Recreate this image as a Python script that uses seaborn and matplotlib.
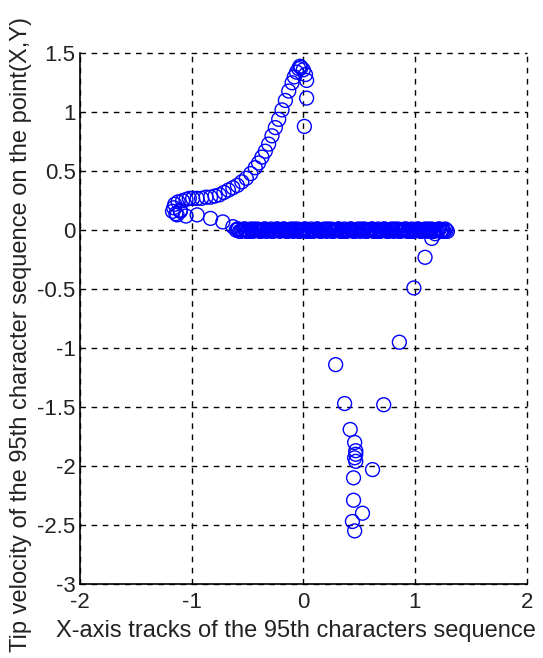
import matplotlib
matplotlib.use("Agg")
import matplotlib.pyplot as plt
import seaborn as sns
import pandas as pd

# ---- data ----
upper_x = [-1.17, -1.16, -1.15, -1.14, -1.12, -1.10, -1.08, -1.05, -1.02, -0.99,
           -0.95, -0.91, -0.87, -0.83, -0.79, -0.75, -0.71, -0.67, -0.63, -0.59,
           -0.55, -0.51, -0.47, -0.43, -0.40, -0.37, -0.34, -0.31, -0.28, -0.25,
           -0.22, -0.19, -0.16, -0.13, -0.10, -0.08, -0.06, -0.04, -0.03, -0.02,
           0.00, 0.02, 0.03, 0.03, 0.01]
upper_y = [0.16, 0.19, 0.22, 0.14, 0.24, 0.17, 0.25, 0.26, 0.27, 0.27,
           0.27, 0.27, 0.28, 0.28, 0.29, 0.30, 0.32, 0.34, 0.36, 0.38,
           0.41, 0.44, 0.48, 0.53, 0.57, 0.62, 0.67, 0.73, 0.80, 0.87,
           0.94, 1.02, 1.10, 1.18, 1.25, 1.30, 1.34, 1.37, 1.39, 1.38,
           1.36, 1.32, 1.27, 1.12, 0.88]

lower_x = [-1.13, -1.10, -1.05, -0.95, -0.83, -0.72, -0.63]
lower_y = [0.13, 0.16, 0.12, 0.13, 0.10, 0.07, 0.03]

band_x = [-0.60, -0.58, -0.56, -0.54, -0.52, -0.50, -0.48, -0.46, -0.44, -0.42,
          -0.40, -0.38, -0.36, -0.34, -0.32, -0.30, -0.28, -0.26, -0.24, -0.22,
          -0.20, -0.18, -0.16, -0.14, -0.12, -0.10, -0.08, -0.06, -0.04, -0.02,
          0.00, 0.02, 0.04, 0.06, 0.08, 0.10, 0.12, 0.14, 0.16, 0.18,
          0.20, 0.22, 0.24, 0.26, 0.28, 0.30, 0.32, 0.34, 0.36, 0.38,
          0.40, 0.42, 0.44, 0.46, 0.48, 0.50, 0.52, 0.54, 0.56, 0.58,
          0.60, 0.62, 0.64, 0.66, 0.68, 0.70, 0.72, 0.74, 0.76, 0.78,
          0.80, 0.82, 0.84, 0.86, 0.88, 0.90, 0.92, 0.94, 0.96, 0.98,
          1.00, 1.02, 1.04, 1.06, 1.08, 1.10, 1.12, 1.14, 1.16, 1.18,
          1.20, 1.22, 1.24, 1.26, 1.28]
band_y = [0.00, 0.01, -0.01, 0.00, 0.01, 0.00, -0.01, 0.00, 0.01, 0.00,
          0.00, -0.01, 0.00, 0.01, 0.00, 0.00, -0.01, 0.00, 0.01, 0.00,
          0.00, 0.01, 0.00, -0.01, 0.00, 0.00, 0.01, 0.00, -0.01, 0.00,
          0.00, 0.01, 0.00, -0.01, 0.00, 0.00, 0.01, 0.00, -0.01, 0.00,
          0.00, 0.01, 0.00, -0.01, 0.00, 0.00, 0.01, 0.00, -0.01, 0.00,
          0.00, 0.01, 0.00, -0.01, 0.00, 0.00, 0.01, 0.00, -0.01, 0.00,
          0.00, 0.01, 0.00, -0.01, 0.00, 0.00, 0.01, 0.00, -0.01, 0.00,
          0.00, 0.01, 0.00, -0.01, 0.00, 0.00, 0.01, 0.00, -0.01, 0.00,
          0.00, 0.01, 0.00, -0.01, 0.00, 0.00, 0.01, 0.00, -0.01, 0.00,
          0.00, 0.01, 0.00, -0.01, 0.00]

band2_x = [-0.59, -0.57, -0.55, -0.53, -0.51, -0.49, -0.47, -0.45, -0.43, -0.41,
           -0.39, -0.37, -0.35, -0.33, -0.31, -0.29, -0.27, -0.25, -0.23, -0.21,
           -0.19, -0.17, -0.15, -0.13, -0.11, -0.09, -0.07, -0.05, -0.03, -0.01,
           0.01, 0.03, 0.05, 0.07, 0.09, 0.11, 0.13, 0.15, 0.17, 0.19,
           0.21, 0.23, 0.25, 0.27, 0.29, 0.31, 0.33, 0.35, 0.37, 0.39,
           0.41, 0.43, 0.45, 0.47, 0.49, 0.51, 0.53, 0.55, 0.57, 0.59,
           0.61, 0.63, 0.65, 0.67, 0.69, 0.71, 0.73, 0.75, 0.77, 0.79,
           0.81, 0.83, 0.85, 0.87, 0.89, 0.91, 0.93, 0.95, 0.97, 0.99,
           1.01, 1.03, 1.05, 1.07, 1.09, 1.11, 1.13, 1.15, 1.17, 1.19,
           1.21, 1.23, 1.25, 1.27, 1.29]
band2_y = [0.01, -0.01, 0.00, 0.01, -0.01, 0.00, 0.01, -0.01, 0.00, 0.01,
           -0.01, 0.00, 0.01, -0.01, 0.00, 0.01, -0.01, 0.00, 0.01, -0.01,
           0.00, 0.01, -0.01, 0.00, 0.01, -0.01, 0.00, 0.01, -0.01, 0.00,
           0.01, -0.01, 0.00, 0.01, -0.01, 0.00, 0.01, -0.01, 0.00, 0.01,
           -0.01, 0.00, 0.01, -0.01, 0.00, 0.01, -0.01, 0.00, 0.01, -0.01,
           0.00, 0.01, -0.01, 0.00, 0.01, -0.01, 0.00, 0.01, -0.01, 0.00,
           0.01, -0.01, 0.00, 0.01, -0.01, 0.00, 0.01, -0.01, 0.00, 0.01,
           -0.01, 0.00, 0.01, -0.01, 0.00, 0.01, -0.01, 0.00, 0.01, -0.01,
           0.00, 0.01, -0.01, 0.00, 0.01, -0.01, 0.00, 0.01, -0.01, 0.00,
           0.01, -0.01, 0.00, 0.01, -0.01]

tail_x = [1.18, 1.15, 1.09, 0.99, 0.86, 0.72]
tail_y = [-0.03, -0.07, -0.23, -0.49, -0.95, -1.48]

cluster_x = [0.29, 0.37, 0.42, 0.46, 0.47, 0.47, 0.46, 0.47, 0.62, 0.45, 0.45, 0.53, 0.44, 0.46]
cluster_y = [-1.14, -1.47, -1.69, -1.80, -1.87, -1.90, -1.93, -1.96, -2.03, -2.10, -2.29, -2.40, -2.47, -2.55]

x_ticks = [-2, -1, 0, 1, 2]
x_tick_labels = ["-2", "-1", "0", "1", "2"]
y_ticks = [1.5, 1, 0.5, 0, -0.5, -1, -1.5, -2, -2.5, -3]
y_tick_labels = ["1.5", "1", "0.5", "0", "-0.5", "-1", "-1.5", "-2", "-2.5", "-3"]

x_label = "X-axis tracks of the 95th characters sequence"
y_label = "Tip velocity of the 95th character sequence on the point(X,Y)"

df = pd.DataFrame({
    "x": upper_x + lower_x + band_x + band2_x + tail_x + cluster_x,
    "y": upper_y + lower_y + band_y + band2_y + tail_y + cluster_y,
})

# ---- style ----
sns.set_style("white")
plt.rcParams["font.family"] = ["Liberation Sans", "DejaVu Sans"]

fig = plt.figure(figsize=(5.43, 6.58), dpi=100)
ax = fig.add_axes([0.147, 0.1125, 0.823, 0.8065])

sns.scatterplot(data=df, x="x", y="y", ax=ax, marker="o", s=100,
                facecolors="none", edgecolors="#0000ff", linewidth=1.0,
                legend=False, zorder=3)

ax.set_xlim(-2, 2)
ax.set_ylim(-3, 1.5)
ax.set_xticks(x_ticks)
ax.set_xticklabels(x_tick_labels)
ax.set_yticks(y_ticks)
ax.set_yticklabels(y_tick_labels)

ax.grid(True, color="black", linestyle=(0, (4, 4)), linewidth=1.0)
ax.set_axisbelow(True)
for gl in ax.get_xgridlines() + ax.get_ygridlines():
    gl.set_clip_on(False)
for s in ["top", "right"]:
    ax.spines[s].set_visible(False)
for s in ["left", "bottom"]:
    ax.spines[s].set_color("black")
    ax.spines[s].set_linewidth(1.2)

ax.tick_params(axis="both", direction="in", length=3, width=1, colors="black",
               labelcolor="#222222", labelsize=16)
ax.tick_params(axis="x", pad=6)
ax.tick_params(axis="y", pad=3)

ax.set_xlabel(x_label, fontsize=17, color="#222222")
ax.xaxis.set_label_coords(0.483, -0.088)
ax.xaxis.label.set_verticalalignment("center")
ax.set_ylabel(y_label, fontsize=17, color="#222222")
ax.yaxis.label.set_horizontalalignment("left")
ax.yaxis.set_label_coords(-0.108, -0.128)

fig.savefig("out.png", dpi=100)
